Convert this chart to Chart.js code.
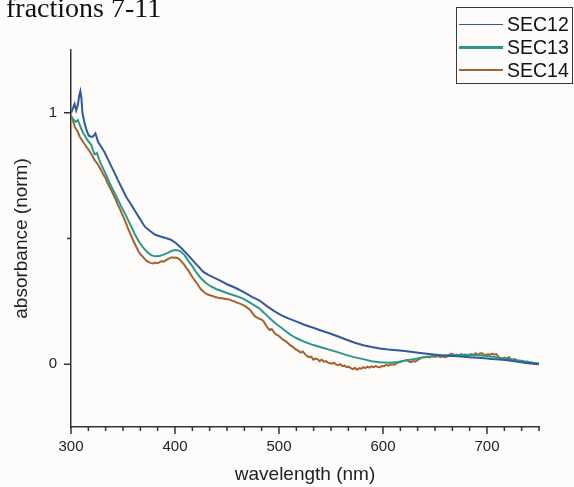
<!DOCTYPE html>
<html>
<head>
<meta charset="utf-8">
<script src="https://cdn.jsdelivr.net/npm/chart.js@4"></script>
<style>
  html, body { margin: 0; padding: 0; background: #fdfcfb; overflow: hidden; }
  #wrap { position: relative; width: 574px; height: 487px; }
  #title { position: absolute; left: 6px; top: -6px; font: 28px "Liberation Serif", "Times New Roman", serif; line-height: 28px; color: #111; white-space: nowrap; }
  #legend { position: absolute; left: 456px; top: 7px; width: 117px; height: 77px; box-sizing: border-box; border: 1px solid #3a3a3a; }
  .row { position: absolute; left: 2px; height: 24px; display: flex; align-items: center; font: 19.5px "Liberation Sans", Arial, sans-serif; color: #111; }
  .swatch { width: 44px; margin-right: 4px; }
</style>
</head>
<body>
<div id="wrap">
  <canvas id="chart"></canvas>
  <div id="title">fractions 7-11</div>
  <div id="legend"></div>
</div>
<script>
// axis ticks
const xMajorTicks = [300, 400, 500, 600, 700];
const xMinorTicks = [316.7, 333.3, 350, 366.7, 383.3, 416.7, 433.3, 450, 466.7, 483.3, 516.7, 533.3, 550, 566.7, 583.3,
  616.7, 633.3, 650, 666.7, 683.3, 716.7, 733.3, 750];
const yTickLabels = [0, 1];
const yMinorTicks = [0.5];

const seriesNames = ['SEC12', 'SEC13', 'SEC14'];
const seriesColors = ['#30599e', '#2b998a', '#a5622b'];

// SEC12
const sec12Wavelength = [300, 302, 303.5, 305, 306.5, 308, 309, 310, 311, 313, 315, 317, 319, 321, 323.5, 326, 329, 332, 335, 339,
  342, 345, 349, 353, 357, 361, 366, 371, 376, 381, 386, 391, 396, 401, 406, 411, 416, 421, 427, 432,
  437, 443, 450, 459, 467, 474, 481, 488, 495, 502, 509, 517, 525, 533, 541, 549, 557, 565, 573, 581,
  589, 597, 605, 613, 621, 630, 640, 651, 661, 672, 683, 695, 705, 715, 725, 733, 741, 750];
const sec12Absorbance = [1.00, 1.02, 1.035, 1.01, 1.03, 1.07, 1.086, 1.06, 1.00, 0.96, 0.93, 0.91, 0.905, 0.905, 0.918, 0.885, 0.865, 0.845, 0.82, 0.785,
  0.76, 0.733, 0.70, 0.666, 0.64, 0.613, 0.58, 0.547, 0.53, 0.515, 0.508, 0.502, 0.495, 0.481, 0.462, 0.441, 0.418, 0.395, 0.368, 0.355,
  0.345, 0.333, 0.318, 0.302, 0.285, 0.268, 0.254, 0.232, 0.212, 0.195, 0.182, 0.169, 0.156, 0.145, 0.133, 0.122, 0.11, 0.097, 0.085, 0.075,
  0.068, 0.062, 0.058, 0.055, 0.052, 0.047, 0.042, 0.037, 0.033, 0.031, 0.028, 0.025, 0.021, 0.018, 0.013, 0.008, 0.004, 0.0];

// SEC13
const sec13Wavelength = [300, 302, 304.5, 306.7, 309, 311.5, 314, 316, 318, 319.6, 321, 322.8, 325, 327, 329, 333, 337, 341, 345, 349,
  353, 357, 361, 365, 369, 373, 377, 381, 385, 389, 393, 397, 401, 405, 409, 413, 417, 421, 425, 430,
  435, 440, 446, 452, 458, 465, 470, 476, 481, 486, 491, 496, 501, 506, 511, 517, 525, 533, 541, 549,
  557, 565, 573, 581, 589, 597, 606, 614, 622, 629, 637, 644, 651, 660, 670, 683, 692, 700, 708, 715,
  722, 730, 738, 744, 750];
const sec13Absorbance = [0.984, 0.975, 0.964, 0.971, 0.945, 0.922, 0.905, 0.89, 0.88, 0.872, 0.852, 0.835, 0.84, 0.815, 0.795, 0.76, 0.722, 0.688, 0.655, 0.622,
  0.59, 0.555, 0.52, 0.49, 0.466, 0.447, 0.434, 0.429, 0.43, 0.436, 0.443, 0.451, 0.454, 0.45, 0.435, 0.41, 0.388, 0.362, 0.342, 0.322,
  0.308, 0.298, 0.289, 0.28, 0.272, 0.262, 0.25, 0.235, 0.222, 0.203, 0.183, 0.165, 0.149, 0.133, 0.117, 0.103, 0.088, 0.076, 0.066, 0.057,
  0.047, 0.036, 0.027, 0.02, 0.012, 0.008, 0.006, 0.009, 0.015, 0.02, 0.026, 0.03, 0.033, 0.035, 0.036, 0.037, 0.035, 0.032, 0.028, 0.024,
  0.02, 0.015, 0.01, 0.006, 0.003];

// SEC14
const sec14Wavelength = [300, 301.5, 303.6, 305, 306.5, 308.4, 310, 312, 314.8, 317, 319, 321, 323, 325, 327, 329, 331, 333, 335, 337,
  339, 341, 343, 345, 347, 349, 351, 353, 355, 357, 359, 361, 363, 365, 367, 369, 371, 373, 375, 377,
  379, 381, 383, 385, 387, 389, 391, 393, 395, 397, 399, 401, 403, 405, 407, 409, 411, 413, 415, 417,
  419, 421, 423, 425, 427, 429, 431, 433, 435, 437, 439, 441, 443, 445, 447, 449, 451, 453, 455, 457,
  459, 461, 463, 465, 467, 469, 471, 473, 475, 477, 479, 481, 483, 485, 487, 489, 491, 493, 495, 497,
  499, 501, 503, 505, 507, 509, 511, 513, 515, 517, 519, 521, 523, 525, 527, 529, 531, 533, 535, 537,
  539, 541, 543, 545, 547, 549, 551, 553, 555, 557, 559, 561, 563, 565, 567, 569, 571, 573, 575, 577,
  579, 581, 583, 585, 587, 589, 591, 593, 595, 597, 599, 601, 603, 605, 607, 609, 611, 613, 615, 617,
  619, 621, 623, 625, 627, 629, 631, 633, 635, 637, 639, 641, 643, 645, 647, 649, 651, 653, 655, 657,
  659, 661, 663, 665, 667, 669, 671, 673, 675, 677, 679, 681, 683, 685, 687, 689, 691, 693, 695, 697,
  699, 701, 703, 705, 707, 709, 711, 713, 715, 717, 719, 721, 723, 725, 727, 729, 731, 733, 735, 737,
  739, 741, 743, 745, 747, 749, 750];
const sec14Absorbance = [0.99, 0.975, 0.944, 0.935, 0.925, 0.905, 0.895, 0.882, 0.865, 0.852, 0.84, 0.825, 0.81, 0.8, 0.786, 0.772, 0.755, 0.742, 0.722, 0.706,
  0.69, 0.672, 0.655, 0.635, 0.618, 0.598, 0.58, 0.56, 0.538, 0.52, 0.5, 0.482, 0.465, 0.448, 0.436, 0.428, 0.418, 0.41, 0.406, 0.402,
  0.401, 0.404, 0.402, 0.405, 0.41, 0.408, 0.413, 0.418, 0.422, 0.425, 0.423, 0.424, 0.421, 0.415, 0.405, 0.395, 0.382, 0.372, 0.358, 0.345,
  0.333, 0.322, 0.31, 0.298, 0.29, 0.283, 0.278, 0.275, 0.272, 0.27, 0.266, 0.265, 0.262, 0.263, 0.26, 0.259, 0.258, 0.256, 0.252, 0.25,
  0.246, 0.243, 0.24, 0.236, 0.232, 0.226, 0.22, 0.212, 0.2, 0.19, 0.185, 0.18, 0.178, 0.172, 0.158, 0.145, 0.136, 0.14, 0.128, 0.118,
  0.115, 0.108, 0.1, 0.095, 0.09, 0.082, 0.075, 0.07, 0.062, 0.057, 0.052, 0.046, 0.05, 0.04, 0.032, 0.028, 0.03, 0.018, 0.022, 0.02,
  0.012, 0.018, 0.01, 0.012, 0.006, 0.004, 0.002, 0.006, -0.002, -0.004, 0.0, -0.008, -0.006, -0.012, -0.01, -0.016, -0.02, -0.014, -0.022, -0.016,
  -0.018, -0.012, -0.016, -0.01, -0.014, -0.009, -0.012, -0.008, -0.011, -0.012, -0.007, -0.008, -0.003, -0.006, -0.002, 0.0, -0.002, 0.004, 0.006, 0.01,
  0.012, 0.014, 0.016, 0.01, 0.008, 0.012, 0.01, 0.016, 0.02, 0.026, 0.028, 0.028, 0.03, 0.027, 0.032, 0.03, 0.03, 0.033, 0.028, 0.031,
  0.028, 0.029, 0.034, 0.041, 0.04, 0.036, 0.038, 0.035, 0.04, 0.036, 0.038, 0.034, 0.037, 0.04, 0.036, 0.043, 0.037, 0.042, 0.044, 0.038,
  0.036, 0.04, 0.037, 0.042, 0.038, 0.04, 0.03, 0.022, 0.02, 0.026, 0.022, 0.028, 0.02, 0.018, 0.02, 0.014, 0.01, 0.014, 0.008, 0.004,
  0.01, 0.002, 0.006, 0.0, 0.004, 0.0, 0.002];

const toPoints = (xs, ys) => xs.map((x, i) => ({ x: x, y: ys[i] }));
const seriesData = [
  toPoints(sec12Wavelength, sec12Absorbance),
  toPoints(sec13Wavelength, sec13Absorbance),
  toPoints(sec14Wavelength, sec14Absorbance)
];

// legend as html, with line swatches
const legendWidths = [1.5, 3, 2];
const legendEl = document.getElementById('legend');
seriesNames.forEach((name, i) => {
  const row = document.createElement('div');
  row.className = 'row';
  row.style.top = (4 + i * 23) + 'px';
  const sw = document.createElement('span');
  sw.className = 'swatch';
  sw.style.borderTop = legendWidths[i] + 'px solid ' + seriesColors[i];
  row.appendChild(sw);
  row.appendChild(document.createTextNode(name));
  legendEl.appendChild(row);
});

// tick marks drawn outward on the axes, major longer than minor
const tickMarks = {
  id: 'tickMarks',
  afterDraw(chart) {
    const { ctx, chartArea, scales: { x, y } } = chart;
    ctx.save();
    ctx.strokeStyle = '#333';
    ctx.lineWidth = 1.5;
    ctx.beginPath();
    xMajorTicks.forEach(v => { const px = x.getPixelForValue(v); ctx.moveTo(px, chartArea.bottom); ctx.lineTo(px, chartArea.bottom + 7); });
    xMinorTicks.forEach(v => { const px = x.getPixelForValue(v); ctx.moveTo(px, chartArea.bottom); ctx.lineTo(px, chartArea.bottom + 4); });
    yTickLabels.forEach(v => { const py = y.getPixelForValue(v); ctx.moveTo(chartArea.left, py); ctx.lineTo(chartArea.left - 7, py); });
    yMinorTicks.forEach(v => { const py = y.getPixelForValue(v); ctx.moveTo(chartArea.left, py); ctx.lineTo(chartArea.left - 4, py); });
    ctx.stroke();
    ctx.restore();
  }
};

const tickFont = { family: '"Liberation Sans", Arial, sans-serif', size: 15 };
const titleFont = { family: '"Liberation Sans", Arial, sans-serif', size: 19 };

const ctx = document.getElementById('chart').getContext('2d');
new Chart(ctx, {
  type: 'line',
  data: {
    datasets: seriesNames.map((name, i) => ({
      label: name,
      data: seriesData[i],
      borderColor: seriesColors[i],
      borderWidth: 2,
      pointRadius: 0,
      tension: 0,
      fill: false
    }))
  },
  options: {
    responsive: true,
    maintainAspectRatio: false,
    animation: false,
    layout: { padding: { top: 50, right: 35, left: 0, bottom: 0 } },
    plugins: { legend: { display: false }, tooltip: { enabled: false } },
    scales: {
      x: {
        type: 'linear',
        min: 300,
        max: 750,
        afterFit: s => { s.height = 60; },
        afterBuildTicks: s => { s.ticks = xMajorTicks.map(v => ({ value: v })); },
        grid: { display: false, drawTicks: false },
        border: { display: true, color: '#333', width: 1.5 },
        ticks: {
          autoSkip: false,
          maxRotation: 0,
          padding: 11,
          color: '#222',
          font: tickFont,
          callback: v => String(v)
        },
        title: {
          display: true,
          text: 'wavelength (nm)',
          color: '#222',
          font: titleFont,
          padding: { top: 0, bottom: 1 }
        }
      },
      y: {
        type: 'linear',
        min: -0.25,
        max: 1.25,
        afterFit: s => { s.width = 71; },
        afterBuildTicks: s => { s.ticks = yTickLabels.map(v => ({ value: v })); },
        grid: { display: false, drawTicks: false },
        border: { display: true, color: '#333', width: 1.5 },
        ticks: {
          autoSkip: false,
          padding: 14,
          color: '#222',
          font: tickFont,
          callback: v => String(v)
        },
        title: {
          display: true,
          text: 'absorbance (norm)',
          color: '#222',
          font: titleFont,
          padding: { top: 10, bottom: 0 }
        }
      }
    }
  },
  plugins: [tickMarks]
});
</script>
</body>
</html>
